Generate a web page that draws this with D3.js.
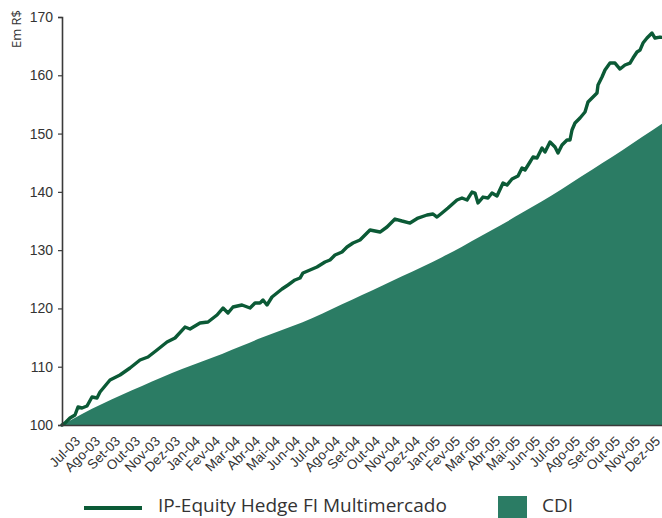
<!DOCTYPE html>
<html>
<head>
<meta charset="utf-8">
<script src="https://cdn.jsdelivr.net/npm/d3@7"></script>
<style>
  html, body { margin: 0; padding: 0; background: #fff; }
  svg { display: block; font-family: "Open Sans", "Noto Sans", sans-serif; }
</style>
</head>
<body>
<svg id="chart" width="662" height="518"></svg>
<script>
// Month labels along the horizontal axis (Jul-03 .. Dez-05)
const monthLabels = [
  "Jul-03","Ago-03","Set-03","Out-03","Nov-03","Dez-03",
  "Jan-04","Fev-04","Mar-04","Abr-04","Mai-04","Jun-04",
  "Jul-04","Ago-04","Set-04","Out-04","Nov-04","Dez-04",
  "Jan-05","Fev-05","Mar-05","Abr-05","Mai-05","Jun-05",
  "Jul-05","Ago-05","Set-05","Out-05","Nov-05","Dez-05"
];

// Y axis ticks (R$)
const yTicks = [100, 110, 120, 130, 140, 150, 160, 170];

// CDI accumulated value at each month end (month 0 = start of Jul-03)
const cdiMonth = [0,1,2,3,4,5,6,7,8,9,10,11,12,13,14,15,16,17,18,19,20,21,22,23,24,25,26,27,28,29,30];
const cdiValue = [100.0,101.9,103.6,105.2,106.7,108.2,109.6,110.9,112.2,113.6,115.0,116.3,117.6,119.1,120.7,122.3,
                  123.9,125.5,127.1,128.8,130.6,132.5,134.4,136.4,138.4,140.5,142.7,144.9,147.1,149.4,151.7];

// IP-Equity Hedge FI Multimercado: time in months since Jul-03, accumulated value
const fundMonth = [
  0.00,0.15,0.40,0.65,0.80,1.00,1.25,1.50,1.75,1.90,2.40,2.90,3.40,3.90,4.30,4.75,5.25,5.65,6.15,6.40,
  6.90,7.30,7.75,8.05,8.30,8.55,9.00,9.40,9.65,9.90,10.05,10.25,10.50,10.75,11.00,11.30,11.65,11.90,12.05,12.40,
  12.75,13.15,13.40,13.65,14.00,14.25,14.55,14.90,15.15,15.40,15.90,16.25,16.65,17.00,17.40,17.80,18.25,18.55,18.75,19.00,
  19.30,19.75,20.00,20.25,20.50,20.65,20.80,21.05,21.30,21.50,21.75,22.05,22.25,22.50,22.80,23.00,23.15,23.40,23.55,23.75,
  24.00,24.15,24.40,24.65,24.80,25.00,25.25,25.40,25.50,25.65,25.90,26.15,26.30,26.50,26.75,26.80,27.00,27.15,27.40,27.65,
  27.90,28.15,28.40,28.55,28.75,28.90,29.05,29.25,29.50,29.65,29.90,30.00
];
const fundValue = [
  100.00,100.34,101.20,101.72,103.09,102.92,103.26,104.80,104.63,105.66,107.72,108.58,109.78,111.15,111.67,112.87,114.24,114.93,116.81,116.47,
  117.50,117.67,118.87,120.07,119.21,120.24,120.59,120.07,120.93,120.93,121.44,120.59,121.96,122.65,123.33,124.02,124.88,125.22,126.08,126.59,
  127.11,127.96,128.31,129.16,129.68,130.54,131.22,131.74,132.60,133.45,133.11,133.97,135.34,135.00,134.65,135.51,136.03,136.20,135.68,136.37,
  137.23,138.60,138.94,138.60,139.97,139.80,138.09,139.11,138.94,139.80,139.29,141.52,141.17,142.20,142.72,144.09,143.75,145.12,145.98,145.81,
  147.52,146.83,148.55,147.69,146.66,148.04,148.89,148.89,150.61,151.81,152.67,153.70,155.41,156.10,156.96,158.33,159.70,160.90,162.10,162.10,
  161.07,161.76,162.10,162.96,163.99,164.33,165.53,166.39,167.25,166.39,166.56,166.50
];

const fundName = "IP-Equity Hedge FI Multimercado";
const cdiName = "CDI";

const colors = { fund: "#0b5a36", cdi: "#2b7c64", axis: "#3a3a3a", text: "#333333" };

const svg = d3.select("#chart");
const plot = { left: 62, right: 662, top: 17, bottom: 425 };

const x = d3.scaleLinear().domain([0, 30]).range([plot.left, plot.right]);
const xBand = d3.scaleBand().domain(monthLabels).range([plot.left, plot.right]);
const y = d3.scaleLinear().domain([100, 170]).range([plot.bottom, plot.top]);

// CDI area
const cdiData = cdiMonth.map((m, i) => ({ m, v: cdiValue[i] }));
svg.append("path")
  .datum(cdiData)
  .attr("fill", colors.cdi)
  .attr("d", d3.area()
    .x(d => x(d.m))
    .y0(y(100))
    .y1(d => y(d.v))
    .curve(d3.curveMonotoneX));

// Fund line
const fundData = fundMonth.map((m, i) => ({ m, v: fundValue[i] }));
svg.append("path")
  .datum(fundData)
  .attr("fill", "none")
  .attr("stroke", colors.fund)
  .attr("stroke-width", 3.4)
  .attr("stroke-linejoin", "round")
  .attr("stroke-linecap", "round")
  .attr("d", d3.line().x(d => x(d.m)).y(d => y(d.v)));

// Y axis
const yAxis = svg.append("g")
  .attr("transform", `translate(${plot.left},0)`)
  .call(d3.axisLeft(y).tickValues(yTicks).tickSize(4).tickPadding(5).tickFormat(d3.format("d")));
yAxis.select(".domain").attr("stroke", colors.axis).attr("stroke-width", 1.6);
yAxis.selectAll(".tick line").attr("stroke", colors.axis).attr("stroke-width", 1.2);
yAxis.selectAll(".tick text")
  .attr("fill", colors.text)
  .style("font-size", "14px");

// X axis
const xAxis = svg.append("g")
  .attr("transform", `translate(0,${plot.bottom})`)
  .call(d3.axisBottom(xBand).tickSize(0).tickPadding(0));
xAxis.select(".domain").attr("stroke", colors.axis).attr("stroke-width", 1.6);
xAxis.selectAll(".tick text")
  .attr("fill", colors.text)
  .style("font-size", "13.5px")
  .attr("text-anchor", "end")
  .attr("dy", null)
  .attr("y", 0)
  .attr("transform", "translate(9,17) rotate(-45)");

// Unit label
svg.append("text")
  .attr("transform", "translate(21,10) rotate(-90)")
  .attr("text-anchor", "end")
  .attr("fill", colors.text)
  .style("font-size", "13px")
  .text("Em R$");

// Legend
const legend = svg.append("g");
legend.append("line")
  .attr("x1", 84).attr("x2", 142)
  .attr("y1", 508).attr("y2", 508)
  .attr("stroke", colors.fund)
  .attr("stroke-width", 4);
legend.append("text")
  .attr("x", 158).attr("y", 512)
  .attr("fill", colors.text)
  .style("font-size", "19px")
  .text(fundName);
legend.append("rect")
  .attr("x", 498).attr("y", 496)
  .attr("width", 29).attr("height", 22)
  .attr("fill", colors.cdi);
legend.append("text")
  .attr("x", 542).attr("y", 512)
  .attr("fill", colors.text)
  .style("font-size", "19px")
  .text(cdiName);
</script>
</body>
</html>
